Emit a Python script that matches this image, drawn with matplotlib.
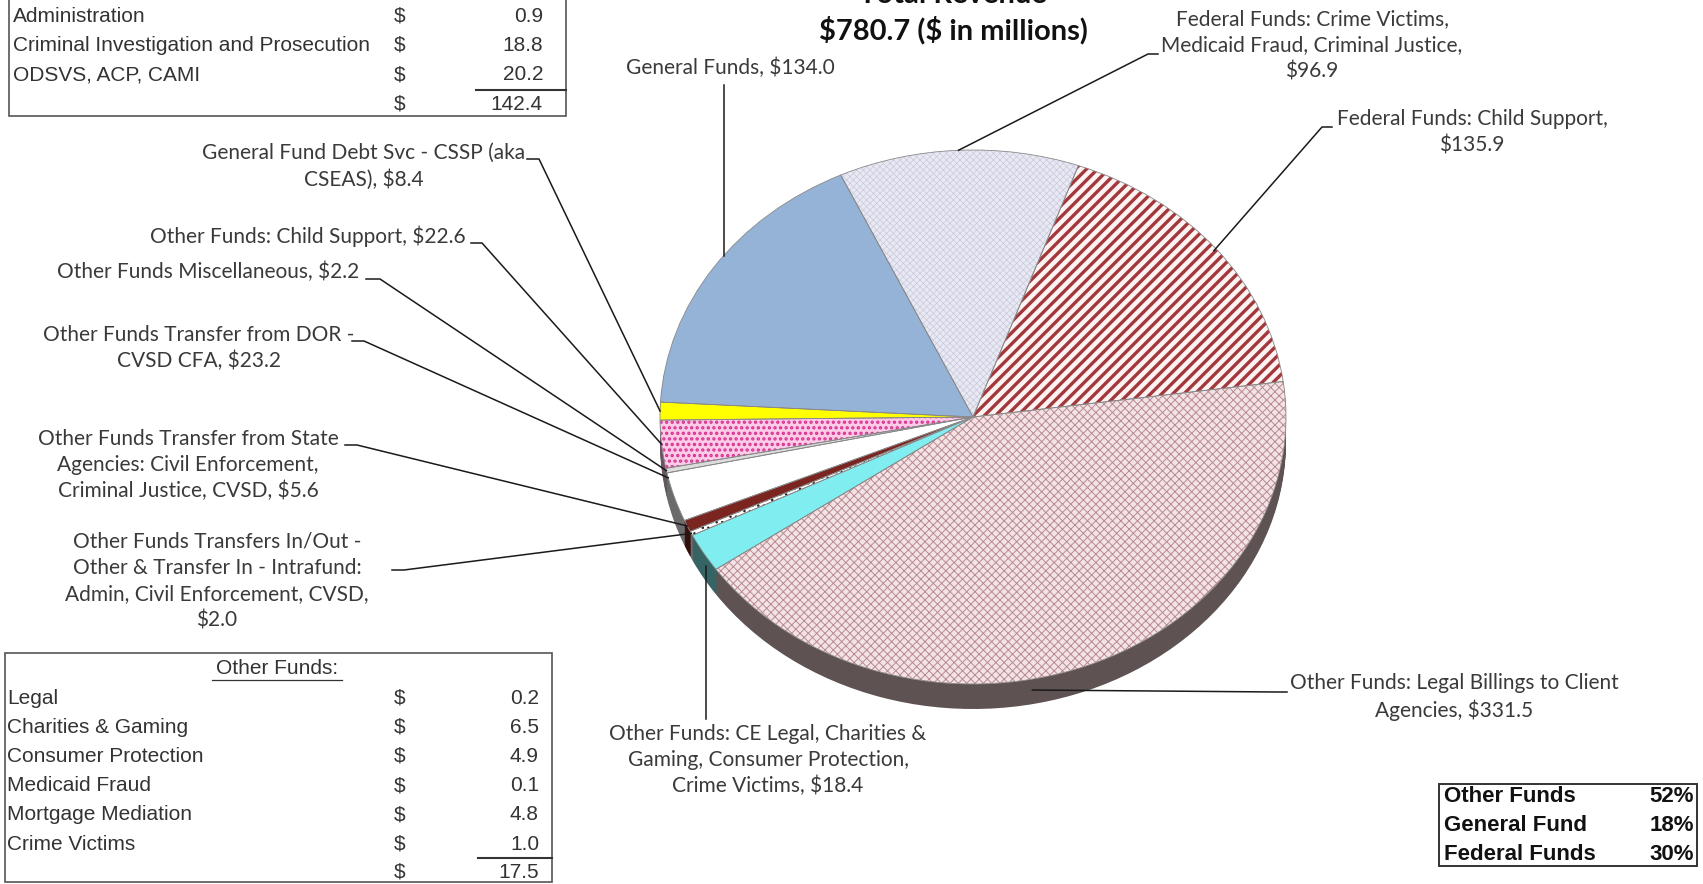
import numpy as np
import matplotlib.pyplot as plt
import matplotlib.colors as mcolors
from matplotlib.patches import Rectangle

W, H = 1703, 884

# pie slices, clockwise from the top
slice_labels = [
    "Federal Funds: Crime Victims,\nMedicaid Fraud, Criminal Justice,\n$96.9",
    "Federal Funds: Child Support,\n$135.9",
    "Other Funds: Legal Billings to Client\nAgencies, $331.5",
    "Other Funds: CE Legal, Charities &\nGaming, Consumer Protection,\nCrime Victims, $18.4",
    "Other Funds Transfers In/Out -\nOther & Transfer In - Intrafund:\nAdmin, Civil Enforcement, CVSD,\n$2.0",
    "Other Funds Transfer from State\nAgencies: Civil Enforcement,\nCriminal Justice, CVSD, $5.6",
    "Other Funds Transfer from DOR -\nCVSD CFA, $23.2",
    "Other Funds Miscellaneous, $2.2",
    "Other Funds: Child Support, $22.6",
    "General Fund Debt Svc - CSSP (aka\nCSEAS), $8.4",
    "General Funds, $134.0",
]
slice_values = [96.9, 135.9, 331.5, 18.4, 2.0, 5.6, 23.2, 2.2, 22.6, 8.4, 134.0]

top_rows = ["Administration", "Criminal Investigation and Prosecution", "ODSVS, ACP, CAMI"]
top_vals = [0.9, 18.8, 20.2]
top_total = 142.4

other_rows = ["Legal", "Charities & Gaming", "Consumer Protection",
              "Medicaid Fraud", "Mortgage Mediation", "Crime Victims"]
other_vals = [0.2, 6.5, 4.9, 0.1, 4.8, 1.0]
other_total = 17.5

share_names = ["Other Funds", "General Fund", "Federal Funds"]
share_pct = [52, 18, 30]

# styling of the slices
face = ["#e9e9f3", "#fdf3f3", "#f3e3e5", "#80eef0", "#ffffff", "#7b2520",
        "#ffffff", "#dcdcdc", "#fbcbe8", "#ffff00", "#95b3d7"]
hatch = ["xxxxx", "///", "xxxx", None, "...", None, None, None, "...", None, None]
hcol = ["#c6c6dc", "#a3383c", "#b98a92", None, "#222222", None, None, None, "#d8328f", None, None]
hlw = [0.45, 2.4, 0.7, 1, 1, 1, 1, 1, 1.6, 1, 1]
side_face = "#5f5253"

# pie geometry in pixels (top based)
cx, cy, rx, ry = 973, 417, 313, 267
depth = 25
start = 115

lab_font = "Lato"
tab_font = "Liberation Sans"

fig = plt.figure(figsize=(W / 100, H / 100), dpi=100)
pax = fig.add_axes([(cx - rx) / W, (H - cy - ry) / H, 2 * rx / W, 2 * ry / H])

# side of the 3d pie: stack of darker pies
side = [tuple(np.array(mcolors.to_rgb(c)) * 0.42) for c in face]
side[2] = side_face
for k in np.linspace(depth / ry, 0.0, 16)[:-1]:
    pax.pie(slice_values, colors=side, startangle=start, counterclock=False,
            center=(0, -k), wedgeprops=dict(linewidth=0))

wedges, _ = pax.pie(slice_values, colors=face, startangle=start, counterclock=False,
                    wedgeprops=dict(linewidth=0))
for w, h, hc, lw in zip(wedges, hatch, hcol, hlw):
    if h:
        w.set_hatch(h)
        w.set_edgecolor(hc)
        if hasattr(w, "set_hatch_linewidth"):
            w.set_hatch_linewidth(lw)
pax.pie(slice_values, startangle=start, counterclock=False,
        wedgeprops=dict(fill=False, edgecolor="#8a8a8a", linewidth=0.6))
for p in pax.patches:
    p.set_clip_on(False)
pax.set_xlim(-1, 1)
pax.set_ylim(-1, 1)
pax.set_aspect("auto")
pax.axis("off")

# overlay in pixel coords
ov = fig.add_axes([0, 0, 1, 1])
ov.set_xlim(0, W)
ov.set_ylim(H, 0)
ov.axis("off")

to_ov = pax.transData + ov.transData.inverted()


def anchor(i, r, f=0.5):
    w = wedges[i]
    a = np.radians(w.theta2 - f * (w.theta2 - w.theta1))
    return to_ov.transform((r * np.cos(a), r * np.sin(a)))


# label layout: text centre, leader start, stub length, anchor radius, place in slice
layout = [
    dict(t=(1312, 45), s=(1158, 54), stub=-10, r=1.0, f=0.5),
    dict(t=(1472, 132), s=(1332, 127), stub=-10, r=0.99, f=0.5),
    dict(t=(1454, 697), s=(1287, 692), stub=-10, r=1.04, f=0.57),
    dict(t=(768, 760), s=(None, 719), stub=0, r=1.02, f=0.2),
    dict(t=(217, 581), s=(392, 570), stub=12, r=1.0, f=0.5),
    dict(t=(188, 465), s=(345, 445), stub=12, r=1.0, f=0.5),
    dict(t=(199, 348), s=(352, 341), stub=12, r=1.0, f=0.9),
    dict(t=(208, 272), s=(366, 279), stub=14, r=1.0, f=0.5),
    dict(t=(308, 236), s=(471, 243), stub=11, r=1.0, f=0.5),
    dict(t=(364, 166), s=(527, 159), stub=12, r=1.0, f=0.5),
    dict(t=(730, 68), s=(None, 85), stub=0, r=1.0, f=0.55),
]

for i, (lab, lay) in enumerate(zip(slice_labels, layout)):
    ov.text(lay["t"][0], lay["t"][1], lab, ha="center", va="center",
            fontsize=15, family=lab_font, color="#3a3a3a", linespacing=1.38,
            parse_math=False)
    ax_, ay_ = anchor(i, lay["r"], lay["f"])
    sx, sy = lay["s"]
    if sx is None:
        ov.plot([ax_, ax_], [sy, ay_], color="#1a1a1a", lw=1.1)
    else:
        ex = sx + lay["stub"]
        ov.plot([sx, ex, ax_], [sy, sy, ay_], color="#1a1a1a", lw=1.1)

# title (top line cut by the frame, as in the source)
ov.text(953, -5, "Total Revenue", ha="center", va="center", fontsize=21,
        fontweight="bold", family=lab_font, color="#111111", parse_math=False)
ov.text(953, 30, "$780.7 ($ in millions)", ha="center", va="center", fontsize=21,
        fontweight="bold", family=lab_font, color="#111111", parse_math=False)

tkw = dict(fontsize=15, family=tab_font, color="#333333", va="center", parse_math=False)

# top-left table
ov.add_patch(Rectangle((9, -5), 557, 121, fill=False, ec="#555555", lw=1.2))
for k, (n, v) in enumerate(zip(top_rows, top_vals)):
    y = 16 + k * 29.5
    ov.text(13, y, n, ha="left", **tkw)
    ov.text(400, y, "$", ha="center", **tkw)
    ov.text(543, y, f"{v:.1f}", ha="right", **tkw)
ov.plot([476, 566], [90, 90], color="#333333", lw=1.5)
ov.text(400, 104, "$", ha="center", **tkw)
ov.text(543, 104, f"{top_total:.1f}", ha="right", **tkw)

# bottom-left table
ov.add_patch(Rectangle((5, 653), 547, 229, fill=False, ec="#555555", lw=1.2))
ov.text(277, 669, "Other Funds:", ha="center", **tkw)
ov.plot([212, 342], [680, 680], color="#333333", lw=0.9)
for k, (n, v) in enumerate(zip(other_rows, other_vals)):
    y = 698 + k * 29.2
    ov.text(7, y, n, ha="left", **tkw)
    ov.text(400, y, "$", ha="center", **tkw)
    ov.text(539, y, f"{v:.1f}", ha="right", **tkw)
ov.plot([478, 552], [858, 858], color="#333333", lw=1.5)
ov.text(400, 872, "$", ha="center", **tkw)
ov.text(539, 872, f"{other_total:.1f}", ha="right", **tkw)

# bottom-right share box
bkw = {**tkw, "color": "#111111", "fontsize": 16, "fontweight": "bold"}
ov.add_patch(Rectangle((1439, 784), 258, 82, fill=False, ec="#333333", lw=1.4))
for k, (n, p) in enumerate(zip(share_names, share_pct)):
    y = 797 + k * 28.5
    ov.text(1444, y, n, ha="left", **bkw)
    ov.text(1694, y, f"{p}%", ha="right", **bkw)

fig.savefig("out.png", dpi=100)
